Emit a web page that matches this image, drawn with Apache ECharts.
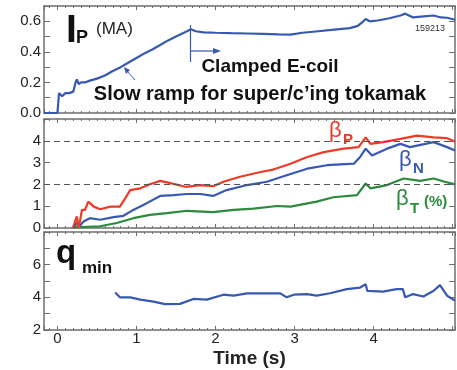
<!DOCTYPE html>
<html>
<head>
<meta charset="utf-8">
<script src="https://cdn.jsdelivr.net/npm/echarts@6/dist/echarts.min.js"></script>
<style>html,body{margin:0;padding:0;background:#fff;}#c{width:457px;height:370px;}</style>
</head>
<body>
<div id="c"></div>
<script>
// ---------- data ----------
const ipT = [-0.17,0.0,0.02,0.06,0.1,0.15,0.2,0.23,0.245,0.27,0.3,0.35,0.4,0.5,0.6,0.7,0.8,0.9,1.0,1.1,1.2,1.3,1.4,1.5,1.6,1.69,1.75,1.85,2.0,2.2,2.4,2.6,2.8,2.95,3.1,3.3,3.5,3.7,3.8,3.87,3.9,3.95,4.05,4.2,4.34,4.4,4.5,4.6,4.76,4.85,4.93,5.03];
const ipV = [0,0,0.13,0.11,0.13,0.13,0.14,0.2,0.22,0.19,0.2,0.2,0.21,0.225,0.245,0.275,0.30,0.33,0.36,0.39,0.415,0.445,0.475,0.5,0.525,0.548,0.535,0.528,0.525,0.522,0.52,0.518,0.515,0.513,0.525,0.535,0.545,0.555,0.57,0.6,0.615,0.6,0.605,0.62,0.638,0.65,0.625,0.63,0.638,0.625,0.623,0.61];

const bpT = [0.195,0.245,0.27,0.31,0.35,0.39,0.46,0.54,0.67,0.79,0.857,0.92,1.05,1.17,1.3,1.43,1.62,1.81,1.97,2.1,2.31,2.57,2.73,2.95,3.16,3.37,3.62,3.81,3.9,3.96,4.12,4.34,4.55,4.76,4.93,5.03];
const bpV = [0,0.53,0,0.83,0.83,1.21,0.98,0.86,0.98,0.98,1.36,1.74,1.82,2.01,2.16,2.06,1.89,1.97,1.92,2.12,2.35,2.57,2.68,2.95,3.26,3.48,3.64,3.71,4.16,3.86,3.94,4.09,4.24,4.16,4.12,3.97];

const bnT = [0.195,0.245,0.28,0.33,0.41,0.54,0.71,0.835,0.96,1.13,1.3,1.47,1.64,1.81,1.97,2.14,2.4,2.65,2.9,3.16,3.41,3.75,3.83,3.9,3.98,4.17,4.34,4.46,4.76,4.93,5.03];
const bnV = [0,0.23,0.08,0.3,0.45,0.38,0.5,0.56,0.83,1.14,1.47,1.51,1.56,1.56,1.47,1.74,1.97,2.12,2.42,2.72,2.88,2.95,3.26,3.64,3.33,3.64,3.86,3.71,3.94,3.71,3.56];

const btT = [0.195,0.245,0.3,0.54,0.75,0.96,1.17,1.385,1.64,1.97,2.23,2.48,2.78,2.95,3.28,3.49,3.79,3.9,3.96,4.17,4.38,4.59,4.76,4.9,5.03];
const btV = [0,0.05,0.04,0.08,0.23,0.45,0.6,0.68,0.79,0.73,0.83,0.89,1.01,0.98,1.21,1.41,1.51,2.04,1.82,1.97,2.27,2.16,2.27,2.12,2.0];

const qT = [0.73,0.79,0.92,1.05,1.215,1.36,1.55,1.72,1.89,2.1,2.23,2.4,2.65,2.82,2.9,2.99,3.16,3.28,3.45,3.66,3.83,3.9,3.92,4.12,4.29,4.37,4.4,4.5,4.63,4.76,4.84,4.93,5.03];
const qV = [4.3,4.0,4.0,3.86,3.74,3.58,3.6,3.9,3.86,4.16,4.1,4.24,4.25,4.24,4.0,4.16,4.2,4.1,4.25,4.5,4.6,4.8,4.4,4.35,4.5,4.5,4.0,4.2,4.05,4.4,4.75,4.1,3.8];

const ipTicks = [0.0,0.2,0.4,0.6];
const betaTicks = [0,1,2,3,4];
const qTicks = [2,4,6];
const timeTicks = [0,1,2,3,4];
const dashedLevels = [2,4];

// ---------- helpers ----------
const zip = (a,b) => a.map((t,i)=>[t,b[i]]);
const FONT = '"Liberation Sans", Arial, Helvetica, sans-serif';
const BLUE = '#3758b3', RED = '#ee3a26', GREEN = '#2b8a3c', AX = '#6e6e6e';

function xAx(grid, pos, labels) {
  return {
    type:'value', gridIndex:grid, position:pos, min:-0.17, max:5.03,
    axisLine:{show:true, onZero:false, lineStyle:{color:AX, width:1.5}},
    axisTick:{show:true, inside:true, length:4, lineStyle:{color:AX}},
    minorTick:{show:true, splitNumber:10, length:2, lineStyle:{color:AX}},
    splitLine:{show:false},
    axisLabel:{show:labels, margin:1, fontSize:15, color:'#222', fontFamily:FONT,
      showMinLabel:false, showMaxLabel:false,
      formatter:(v)=> timeTicks.includes(Math.round(v*1000)/1000) ? String(Math.round(v)) : ''},
    name: labels ? 'Time (s)' : '', nameLocation:'middle', nameGap:19,
    nameTextStyle:{fontSize:19, fontWeight:'bold', color:'#222', fontFamily:FONT}
  };
}
function yAx(grid, pos, min, max, interval, ticks, fmt, labels) {
  return {
    type:'value', gridIndex:grid, position:pos, min:min, max:max, interval:interval,
    axisLine:{show:true, onZero:false, lineStyle:{color:AX, width:1.5}},
    axisTick:{show:true, inside:true, length:6, lineStyle:{color:AX}},
    splitLine:{show:false},
    axisLabel:{show:labels, margin:3, fontSize:15, color:'#222', fontFamily:FONT,
      formatter:(v)=>{ const r=Math.round(v*1000)/1000; return ticks.includes(r) ? fmt(r) : ''; }}
  };
}

const chart = echarts.init(document.getElementById('c'), null, {renderer:'canvas'});
const grids = [
  {left:44, right:2, top:6, height:107},
  {left:44, right:2, top:119, height:109},
  {left:44, right:2, top:232, height:98}
];
const line = (name, xi, yi, data, color) => ({
  name, type:'line', xAxisIndex:xi, yAxisIndex:yi, data, showSymbol:false,
  lineStyle:{color, width:2.2}, itemStyle:{color}, animation:false, silent:true
});

const option = {
  animation:false,
  grid: grids,
  xAxis: [xAx(0,'bottom',false), xAx(0,'top',false), xAx(1,'bottom',false), xAx(1,'top',false), xAx(2,'bottom',true), xAx(2,'top',false)],
  yAxis: [
    yAx(0,'left',0,0.7,0.1,ipTicks,(v)=>v.toFixed(1),true),
    yAx(0,'right',0,0.7,0.1,ipTicks,(v)=>v.toFixed(1),false),
    yAx(1,'left',0,5,1,betaTicks,(v)=>String(v),true),
    yAx(1,'right',0,5,1,betaTicks,(v)=>String(v),false),
    yAx(2,'left',2,8,1,qTicks,(v)=>String(v),true),
    yAx(2,'right',2,8,1,qTicks,(v)=>String(v),false)
  ],
  series: [
    line('Ip',0,0,zip(ipT,ipV),BLUE),
    Object.assign(line('betaT',2,2,zip(btT,btV),GREEN), {
      markLine:{silent:true, symbol:'none', label:{show:false},
        lineStyle:{color:'#555', type:[6,4], width:1},
        data: dashedLevels.map(v=>({yAxis:v}))}
    }),
    line('betaN',2,2,zip(bnT,bnV),BLUE),
    line('betaP',2,2,zip(bpT,bpV),RED),
    line('qmin',4,4,zip(qT,qV),BLUE)
  ],
  graphic: [
    {type:'text', left:66, top:12, style:{text:'I', font:'bold 39px '+FONT, fill:'#111'}},
    {type:'text', left:76, top:29, style:{text:'P', font:'bold 18px '+FONT, fill:'#111'}},
    {type:'text', left:96, top:21, style:{text:'(MA)', font:'17px '+FONT, fill:'#222'}},
    {type:'text', left:415, top:24, style:{text:'159213', font:'9px '+FONT, fill:'#333'}},
    {type:'line', shape:{x1:190.5,y1:25,x2:190.5,y2:62}, style:{stroke:BLUE, lineWidth:1.2}},
    {type:'line', shape:{x1:190.5,y1:51,x2:214,y2:51}, style:{stroke:BLUE, lineWidth:1.2}},
    {type:'polygon', shape:{points:[[221,51],[213,48],[213,54]]}, style:{fill:BLUE}},
    {type:'line', shape:{x1:135,y1:80,x2:127,y2:71}, style:{stroke:BLUE, lineWidth:1}},
    {type:'polygon', shape:{points:[[124,67],[126,74],[130,70]]}, style:{fill:BLUE}},
    {type:'text', x:270, y:67, style:{text:'Clamped E-coil', font:'bold 19px '+FONT, fill:'#111', align:'center', verticalAlign:'middle'}},
    {type:'text', x:260, y:94, style:{text:'Slow ramp for super/c’ing tokamak', font:'bold 20px '+FONT, fill:'#111', align:'center', verticalAlign:'middle'}},
    {type:'text', x:329, y:131, style:{text:'β', font:'22px '+FONT, fill:RED, verticalAlign:'middle'}},
    {type:'text', x:343, y:140, style:{text:'P', font:'bold 15px '+FONT, fill:RED, verticalAlign:'middle'}},
    {type:'text', x:399, y:160, style:{text:'β', font:'22px '+FONT, fill:BLUE, verticalAlign:'middle'}},
    {type:'text', x:413, y:169, style:{text:'N', font:'bold 15px '+FONT, fill:BLUE, verticalAlign:'middle'}},
    {type:'text', x:396, y:199, style:{text:'β', font:'22px '+FONT, fill:GREEN, verticalAlign:'middle'}},
    {type:'text', x:410, y:209, style:{text:'T', font:'bold 15px '+FONT, fill:GREEN, verticalAlign:'middle'}},
    {type:'text', x:424, y:202, style:{text:'(%)', font:'bold 15px '+FONT, fill:GREEN, verticalAlign:'middle'}},
    {type:'text', x:56, y:254, style:{text:'q', font:'bold 33px '+FONT, fill:'#111', verticalAlign:'middle'}},
    {type:'text', x:82, y:268, style:{text:'min', font:'bold 17px '+FONT, fill:'#111', verticalAlign:'middle'}}
  ]
};
chart.setOption(option);
</script>
</body>
</html>
